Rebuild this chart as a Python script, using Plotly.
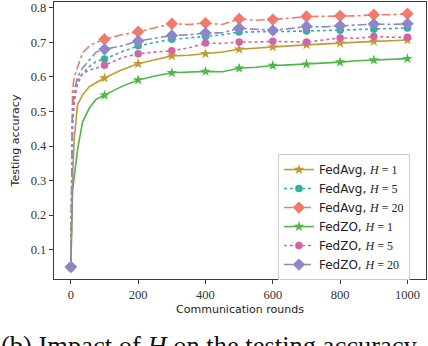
import plotly.graph_objects as go

# communication rounds where the curves were sampled
rounds = [0, 5, 10, 20, 35, 55, 75, 100, 150, 200, 250, 300, 350, 400, 450,
          500, 550, 600, 650, 700, 750, 800, 850, 900, 950, 1000]
marker_rounds = [0, 100, 200, 300, 400, 500, 600, 700, 800, 900, 1000]

fedavg_h1 = [0.05, 0.30, 0.42, 0.52, 0.548, 0.572, 0.583, 0.597, 0.620, 0.638,
             0.650, 0.661, 0.663, 0.667, 0.672, 0.680, 0.684, 0.687, 0.690,
             0.693, 0.696, 0.698, 0.700, 0.703, 0.705, 0.707]
fedavg_h5 = [0.05, 0.48, 0.54, 0.58, 0.61, 0.63, 0.645, 0.652, 0.672, 0.690,
             0.700, 0.709, 0.713, 0.717, 0.722, 0.730, 0.730, 0.732, 0.732,
             0.733, 0.734, 0.735, 0.736, 0.738, 0.740, 0.742]
fedavg_h20 = [0.05, 0.56, 0.60, 0.63, 0.67, 0.69, 0.70, 0.709, 0.722, 0.731,
              0.742, 0.754, 0.752, 0.756, 0.752, 0.768, 0.764, 0.766, 0.770,
              0.775, 0.775, 0.777, 0.777, 0.780, 0.780, 0.783]
fedzo_h1 = [0.05, 0.27, 0.31, 0.39, 0.47, 0.51, 0.535, 0.547, 0.572, 0.591,
            0.603, 0.612, 0.614, 0.616, 0.615, 0.625, 0.628, 0.633, 0.635,
            0.637, 0.640, 0.643, 0.647, 0.649, 0.650, 0.653]
fedzo_h5 = [0.05, 0.46, 0.52, 0.59, 0.61, 0.62, 0.625, 0.634, 0.655, 0.667,
            0.672, 0.676, 0.684, 0.698, 0.697, 0.701, 0.701, 0.703, 0.702,
            0.701, 0.707, 0.713, 0.712, 0.717, 0.715, 0.715]
fedzo_h20 = [0.05, 0.50, 0.56, 0.60, 0.626, 0.65, 0.672, 0.680, 0.690, 0.704,
             0.712, 0.720, 0.722, 0.727, 0.728, 0.741, 0.738, 0.735, 0.740,
             0.746, 0.745, 0.748, 0.750, 0.753, 0.752, 0.754]

series = [
    ("FedAvg", "1", fedavg_h1, "#c39b2f", "solid", "star", 8),
    ("FedAvg", "5", fedavg_h5, "#2db59b", "dot", "circle", 7.5),
    ("FedAvg", "20", fedavg_h20, "#f4786c", "dashdot", "diamond", 9.5),
    ("FedZO", "1", fedzo_h1, "#4db849", "solid", "star", 8),
    ("FedZO", "5", fedzo_h5, "#d064a6", "dot", "circle", 7.5),
    ("FedZO", "20", fedzo_h20, "#8b87c8", "dashdot", "diamond", 9.5),
]

serif = "Liberation Serif"
sans = "DejaVu Sans"

fig = go.Figure()
for algo, h, vals, color, dash, symbol, size in series:
    label = (f"{algo}, <span style=\"font-family:'{serif}'\"><i>H</i> = {h}</span>")
    fig.add_trace(go.Scatter(
        x=rounds, y=vals, mode="lines", showlegend=False, legendgroup=label,
        line=dict(color=color, width=1.6, dash=dash), hoverinfo="skip"))
    mx = [r for r in rounds if r in marker_rounds]
    my = [v for r, v in zip(rounds, vals) if r in marker_rounds]
    fig.add_trace(go.Scatter(
        x=mx, y=my, mode="markers", showlegend=False, legendgroup=label,
        marker=dict(color=color, symbol=symbol, size=size, line=dict(width=0))))
    fig.add_trace(go.Scatter(
        x=[None], y=[None], mode="lines+markers", name=label, legendgroup=label,
        line=dict(color=color, width=1.6, dash=dash),
        marker=dict(color=color, symbol=symbol, size=size, line=dict(width=0))))

axis_common = dict(
    showgrid=False, zeroline=False, showline=True, mirror=True,
    linecolor="#3a3a3a", linewidth=1.3, ticks="outside", ticklen=4,
    tickcolor="#3a3a3a", automargin=False,
    tickfont=dict(family=serif, size=12.5, color="#333"),
)

fig.update_layout(
    width=428, height=346,
    margin=dict(l=54, r=2, t=2, b=67),
    plot_bgcolor="white", paper_bgcolor="white",
    xaxis=dict(range=[-50, 1055], tickvals=[0, 200, 400, 600, 800, 1000],
               title=dict(text="Communication rounds", standoff=4,
                          font=dict(family=sans, size=11, color="#222")),
               **axis_common),
    yaxis=dict(range=[0.015, 0.817],
               tickvals=[0.1, 0.2, 0.3, 0.4, 0.5, 0.6, 0.7, 0.8],
               ticktext=["0.1", "0.2", "0.3", "0.4", "0.5", "0.6", "0.7", "0.8"],
               title=dict(text="Testing accuracy", standoff=8,
                          font=dict(family=sans, size=11, color="#222")),
               **axis_common),
    legend=dict(x=0.602, y=0.451, xanchor="left", yanchor="top",
                bgcolor="white", bordercolor="#cccccc", borderwidth=1,
                font=dict(family=sans, size=12, color="#222"),
                tracegroupgap=0),
    annotations=[dict(
        text="(b) Impact of <i>H</i> on the testing accuracy",
        xref="paper", yref="paper", x=-0.147, y=-0.182,
        xanchor="left", yanchor="top", showarrow=False,
        font=dict(family=serif, size=26.5, color="#111"))],
)

# the page body has a default 8px margin; drop it so the figure fills the window
fig.write_html("out.html", config={"displayModeBar": False},
               post_script="document.body.style.margin='0';"
                           "document.body.style.overflow='hidden';")
